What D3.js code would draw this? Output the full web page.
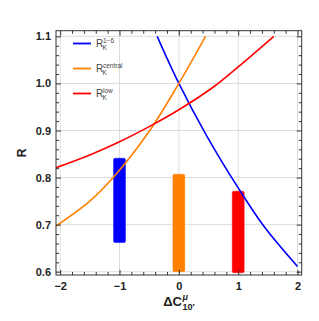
<!DOCTYPE html>
<html>
<head>
<meta charset="utf-8">
<script src="https://cdn.jsdelivr.net/npm/d3@7"></script>
<style>
body { margin: 0; background: #fff; }
svg { display: block; }
.tick text { font-family: "Liberation Sans", Arial, sans-serif; font-weight: bold; font-size: 11px; fill: #222; }
</style>
</head>
<body>
<div id="chart"></div>
<script>
// ticks
var xTicks = [-2, -1, 0, 1, 2];
var yTicks = [0.6, 0.7, 0.8, 0.9, 1.0, 1.1];

// curves [x, R]
var curveBlue = [[-0.365, 1.1], [0, 1.0], [0.45, 0.893], [1, 0.778], [1.43, 0.697], [2, 0.611]];
var curveOrange = [[-2.07, 0.697], [-1.5, 0.75], [-1.106, 0.8], [-0.49, 0.9], [0, 1.0], [0.45, 1.1]];
var curveRed = [[-2.07, 0.821], [-1.5, 0.848], [-1, 0.876], [-0.43, 0.913], [0, 0.944], [0.6, 0.994], [1, 1.035], [1.6, 1.1]];

// bars at x positions
var barX = [-1, 0, 1];
var barLo = [0.662, 0.600, 0.598];
var barHi = [0.841, 0.807, 0.771];

var colors = ["rgb(0,0,255)", "rgb(255,128,0)", "rgb(255,0,0)"];
var legendSup = ["1\u22126", "central", "low"];

var W = 319, H = 321;
var margin = {top: 30.7, right: 17.3, bottom: 46, left: 56};

var svg = d3.select("#chart").append("svg")
    .attr("width", W).attr("height", H);

var x = d3.scaleLinear().domain([-2.07, 2.07]).range([margin.left, W - margin.right]);
var y = d3.scaleLinear().domain([0.593, 1.112]).range([H - margin.bottom, margin.top]);

svg.append("defs").append("clipPath").attr("id", "clip")
  .append("rect")
    .attr("x", margin.left).attr("y", margin.top)
    .attr("width", x.range()[1] - margin.left)
    .attr("height", y.range()[0] - margin.top);

// grid
var grid = svg.append("g").attr("stroke", "#dcdcdc").attr("stroke-width", 1);
grid.selectAll(".gx").data(xTicks).enter().append("line")
    .attr("x1", function(d){ return x(d); }).attr("x2", function(d){ return x(d); })
    .attr("y1", y.range()[0]).attr("y2", y.range()[1]);
grid.selectAll(".gy").data(yTicks).enter().append("line")
    .attr("y1", function(d){ return y(d); }).attr("y2", function(d){ return y(d); })
    .attr("x1", x.range()[0]).attr("x2", x.range()[1]);

// bars
var plot = svg.append("g").attr("clip-path", "url(#clip)");
plot.selectAll(".bar").data(barX).enter().append("rect")
    .attr("x", function(d){ return x(d - 0.1); })
    .attr("width", function(d){ return x(d + 0.1) - x(d - 0.1); })
    .attr("y", function(d, i){ return y(barHi[i]); })
    .attr("height", function(d, i){ return y(barLo[i]) - y(barHi[i]); })
    .attr("rx", 1.5)
    .attr("fill", function(d, i){ return colors[i]; })
    .attr("stroke", function(d, i){ return colors[i]; })
    .attr("stroke-opacity", 0.5)
    .attr("stroke-width", 1);

// curves
var line = d3.line()
    .x(function(d){ return x(d[0]); })
    .y(function(d){ return y(d[1]); })
    .curve(d3.curveCatmullRom.alpha(0.5));

[curveBlue, curveOrange, curveRed].forEach(function(c, i){
    plot.append("path")
        .attr("d", line(c))
        .attr("fill", "none")
        .attr("stroke", colors[i])
        .attr("stroke-width", 1.6);
});

// axes, ticks inward
function minor(lo, hi, step) {
    var out = [];
    for (var v = lo; v <= hi + 1e-9; v += step) out.push(+v.toFixed(4));
    return out;
}
var xMinor = minor(-2, 2, 0.2).filter(function(v){ return xTicks.indexOf(v) < 0; });
var yMinor = minor(0.6, 1.1, 0.02).filter(function(v){ return yTicks.map(function(t){return t.toFixed(2);}).indexOf(v.toFixed(2)) < 0; });

var yb = y.range()[0], yt = y.range()[1], xl = x.range()[0], xr = x.range()[1];

svg.append("g").attr("transform", "translate(0," + yb + ")")
    .call(d3.axisBottom(x).tickValues(xTicks).tickSize(-5).tickPadding(7)
        .tickFormat(function(d){ return d < 0 ? "\u2212" + Math.abs(d) : d; }));
svg.append("g").attr("transform", "translate(0," + yb + ")")
    .call(d3.axisBottom(x).tickValues(xMinor).tickSize(-3).tickFormat(""));
svg.append("g").attr("transform", "translate(0," + yt + ")")
    .call(d3.axisTop(x).tickValues(xTicks).tickSize(-5).tickFormat(""));
svg.append("g").attr("transform", "translate(0," + yt + ")")
    .call(d3.axisTop(x).tickValues(xMinor).tickSize(-3).tickFormat(""));

svg.append("g").attr("transform", "translate(" + xl + ",0)")
    .call(d3.axisLeft(y).tickValues(yTicks).tickSize(-5).tickPadding(5)
        .tickFormat(d3.format(".1f")));
svg.append("g").attr("transform", "translate(" + xl + ",0)")
    .call(d3.axisLeft(y).tickValues(yMinor).tickSize(-3).tickFormat(""));
svg.append("g").attr("transform", "translate(" + xr + ",0)")
    .call(d3.axisRight(y).tickValues(yTicks).tickSize(-5).tickFormat(""));
svg.append("g").attr("transform", "translate(" + xr + ",0)")
    .call(d3.axisRight(y).tickValues(yMinor).tickSize(-3).tickFormat(""));

svg.selectAll(".domain").remove();
svg.selectAll(".tick line").attr("stroke", "#333");

// frame
svg.append("rect")
    .attr("x", xl).attr("y", yt).attr("width", xr - xl).attr("height", yb - yt)
    .attr("fill", "none").attr("stroke", "#333").attr("stroke-width", 1);

// axis titles
var font = "'Liberation Sans', Arial, sans-serif";
svg.append("text")
    .attr("transform", "translate(26," + ((yt + yb) / 2) + ") rotate(-90)")
    .attr("text-anchor", "middle")
    .attr("font-family", font).attr("font-weight", "bold").attr("font-size", 12)
    .attr("fill", "#222")
    .text("R");

var xt = svg.append("g").attr("font-family", font).attr("font-weight", "bold").attr("fill", "#222");
var main = xt.append("text").attr("x", 0).attr("y", 0).attr("font-size", 13).text("\u0394C");
var mw = main.node().getComputedTextLength();
xt.append("text").attr("x", mw + 0.5).attr("y", -6).attr("font-size", 9).attr("font-style", "italic").text("\u03bc");
var sub = xt.append("text").attr("x", mw + 0.5).attr("y", 4).attr("font-size", 9).text("10\u2032");
var total = mw + 0.5 + sub.node().getComputedTextLength();
xt.attr("transform", "translate(" + (x(0) - total / 2) + ",306)");

// legend
var leg = svg.append("g").attr("font-family", font).attr("fill", "#444");
colors.forEach(function(c, i){
    var ly = 43.5 + i * 25;
    leg.append("line")
        .attr("x1", 73).attr("x2", 91).attr("y1", ly).attr("y2", ly)
        .attr("stroke", c).attr("stroke-width", 1.8);
    leg.append("text").attr("x", 96).attr("y", ly + 3.5).attr("font-size", 10).text("R");
    leg.append("text").attr("x", 102.5).attr("y", ly + 6).attr("font-size", 6.5).text("K");
    leg.append("text").attr("x", 103).attr("y", ly - 1).attr("font-size", 6.5).text(legendSup[i]);
});
</script>
</body>
</html>
